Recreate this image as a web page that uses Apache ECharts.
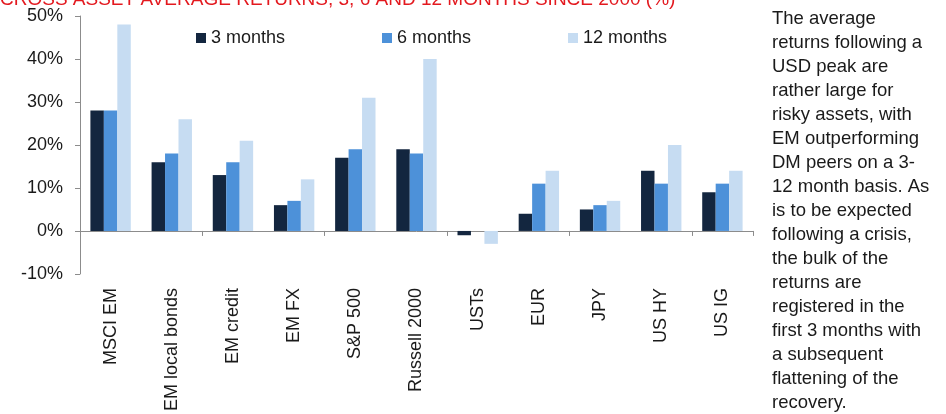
<!DOCTYPE html>
<html>
<head>
<meta charset="utf-8">
<script src="https://cdn.jsdelivr.net/npm/echarts@6/dist/echarts.min.js"></script>
<style>
  html, body { margin: 0; padding: 0; background: #fff; }
  #chart { width: 946px; height: 414px; }
</style>
</head>
<body>
<div id="chart"></div>
<script>
var categories = ['MSCI EM', 'EM local bonds', 'EM credit', 'EM FX', 'S&P 500', 'Russell 2000', 'USTs', 'EUR', 'JPY', 'US HY', 'US IG'];
var months3 = [28, 16, 13, 6, 17, 19, -1, 4, 5, 14, 9];
var months6 = [28, 18, 16, 7, 19, 18, 0, 11, 6, 11, 11];
var months12 = [48, 26, 21, 12, 31, 40, -3, 14, 7, 20, 14];
var seriesNames = ['3 months', '6 months', '12 months'];
var colors = ['#13263f', '#4d91d9', '#c6dcf2'];

var titleText = 'CROSS ASSET AVERAGE RETURNS, 3, 6 AND 12 MONTHS SINCE 2000 (%)';
var noteLines = [
  'The average',
  'returns following a',
  'USD peak are',
  'rather large for',
  'risky assets, with',
  'EM outperforming',
  'DM peers on a 3-',
  '12 month basis. As',
  'is to be expected',
  'following a crisis,',
  'the bulk of the',
  'returns are',
  'registered in the',
  'first 3 months with',
  'a subsequent',
  'flattening of the',
  'recovery.'
];

var font = "'Liberation Sans', Arial, sans-serif";
var axisGray = '#8c8c8c';

var chart = echarts.init(document.getElementById('chart'));

// one legend per item so they sit at fixed spots like the original
var legendLeft = [191, 377, 563];
var legends = seriesNames.map(function (name, i) {
  return {
    data: [name],
    left: legendLeft[i],
    top: 24,
    itemWidth: 10,
    itemHeight: 10,
    itemGap: 0,
    icon: 'rect',
    textStyle: { fontFamily: font, fontSize: 18, color: '#1a1a1a' }
  };
});

var allData = [months3, months6, months12];

var option = {
  animation: false,
  textStyle: { fontFamily: font },
  title: {
    text: titleText,
    left: 0,
    top: -10,
    padding: 0,
    textStyle: { fontFamily: font, fontSize: 19, fontWeight: 'normal', color: '#e3191f' }
  },
  legend: legends,
  grid: { left: 80, right: 193, top: 16, bottom: 135, containLabel: false },
  xAxis: [
    {
      type: 'category',
      data: categories,
      position: 'bottom',
      axisLine: { onZero: true, lineStyle: { color: axisGray, width: 1 } },
      axisTick: { show: true, length: 5, lineStyle: { color: axisGray } },
      axisLabel: { show: false }
    },
    {
      type: 'category',
      data: categories,
      position: 'bottom',
      axisLine: { show: false },
      axisTick: { show: false },
      axisLabel: {
        rotate: 90,
        interval: 0,
        margin: 14,
        fontFamily: font,
        fontSize: 18,
        color: '#1a1a1a'
      }
    }
  ],
  yAxis: {
    type: 'value',
    min: -10,
    max: 50,
    interval: 10,
    axisLine: { show: true, lineStyle: { color: axisGray, width: 1 } },
    axisTick: { show: true, length: 5, lineStyle: { color: axisGray } },
    splitLine: { show: false },
    axisLabel: {
      formatter: '{value}%',
      margin: 17,
      fontFamily: font,
      fontSize: 18,
      color: '#1a1a1a'
    }
  },
  series: seriesNames.map(function (name, i) {
    return {
      name: name,
      type: 'bar',
      xAxisIndex: 0,
      data: allData[i],
      barGap: '0%',
      barCategoryGap: '34%',
      itemStyle: { color: colors[i] }
    };
  }),
  graphic: [
    {
      type: 'text',
      left: 772,
      top: 7,
      style: {
        text: noteLines.join('\n'),
        font: '18.5px ' + font,
        lineHeight: 24,
        fill: '#1a1a1a'
      }
    }
  ]
};

chart.setOption(option);
</script>
</body>
</html>
